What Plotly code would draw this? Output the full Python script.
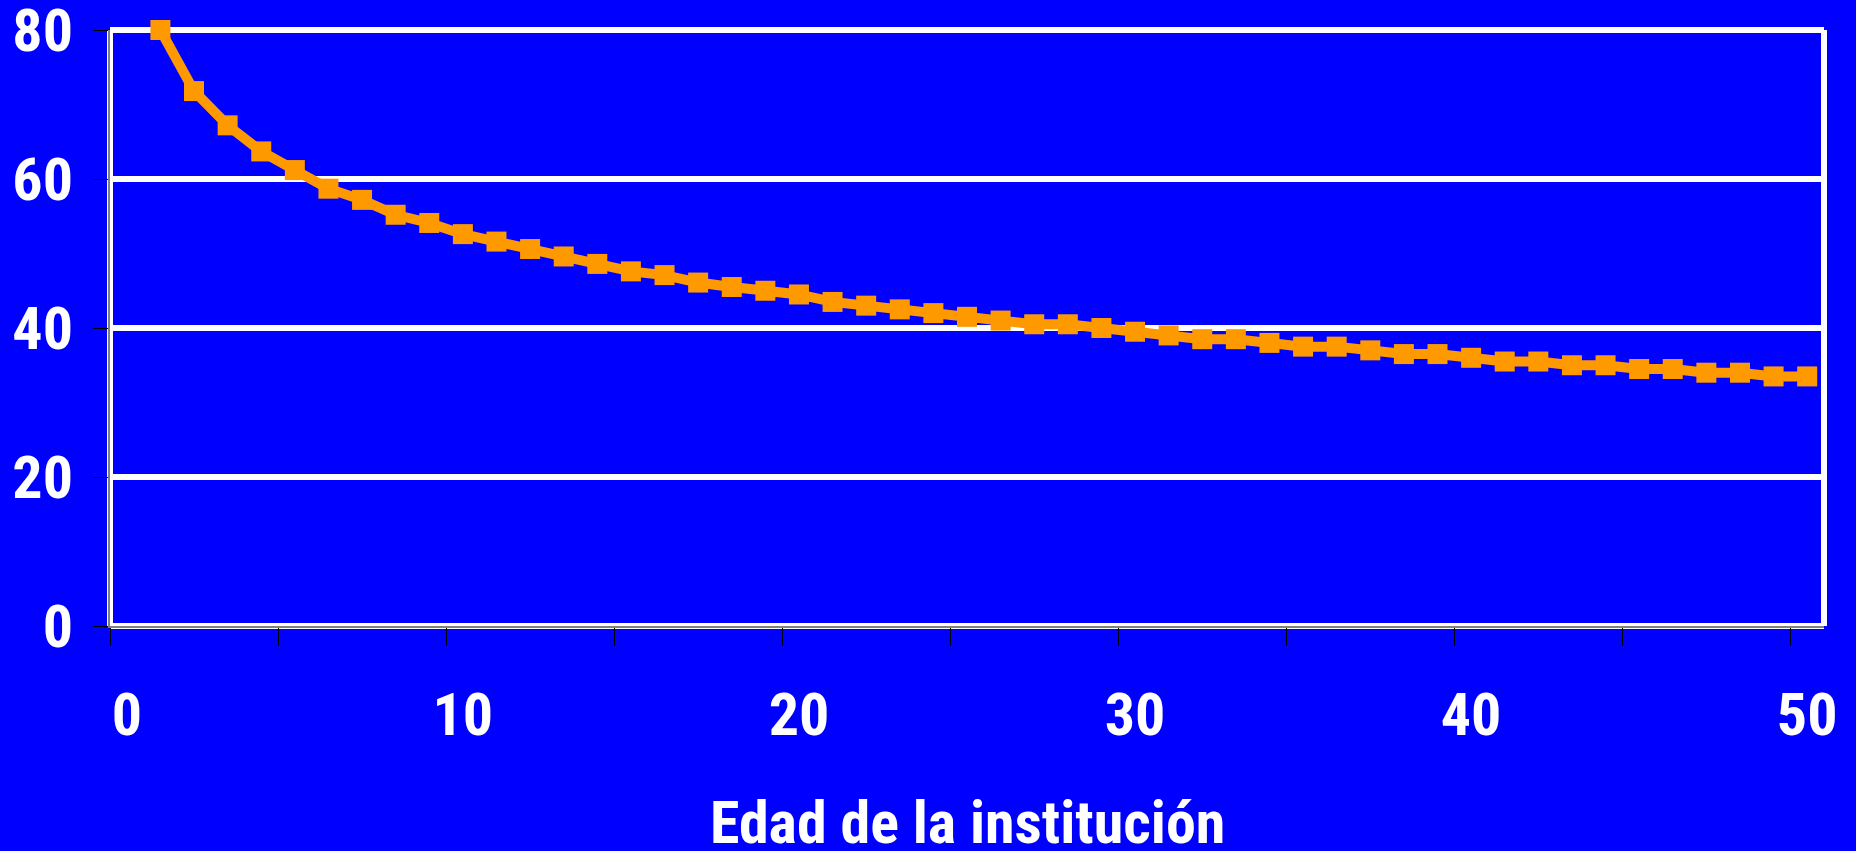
import plotly.graph_objects as go

# Data
edad = list(range(1, 51))
valores = [80.0, 71.8, 67.2, 63.7, 61.2, 58.7, 57.2, 55.2, 54.1, 52.6,
           51.6, 50.6, 49.6, 48.6, 47.6, 47.1, 46.1, 45.5, 45.0, 44.5,
           43.5, 43.0, 42.5, 42.0, 41.5, 41.0, 40.5, 40.5, 40.0, 39.5,
           39.0, 38.5, 38.5, 38.0, 37.5, 37.5, 37.0, 36.5, 36.5, 36.0,
           35.5, 35.5, 35.0, 35.0, 34.5, 34.5, 34.0, 34.0, 33.5, 33.5]
x_ticks = [0, 10, 20, 30, 40, 50]
x_ticktext = ["0", "10", "20", "30", "40", "50"]
y_ticks = [0, 20, 40, 60, 80]
x_title = "Edad de la institución"

BLUE = "#0000FF"
ORANGE = "#FF9900"
FONT = "Roboto Condensed, Liberation Sans, sans-serif"

fig = go.Figure()
fig.add_trace(go.Scatter(
    x=edad, y=valores, mode="lines+markers",
    line=dict(color=ORANGE, width=10),
    marker=dict(symbol="square", size=20, color=ORANGE, line=dict(width=0)),
    cliponaxis=False, showlegend=False,
))

# white frame: left, right, top, bottom
for (x0, x1, y0, y1) in [(0, 0, 0, 1), (1, 1, 0, 1), (0, 1, 1, 1), (0, 1, 0, 0)]:
    fig.add_shape(type="line", xref="x domain", yref="y domain",
                  x0=x0, x1=x1, y0=y0, y1=y1,
                  line=dict(color="white", width=6), layer="below")

fig.add_annotation(text=x_title, xref="x domain", yref="y domain",
                   x=0.5, y=-0.3305, xanchor="center", yanchor="middle",
                   showarrow=False,
                   font=dict(family=FONT, size=60, color="white", weight="bold"))

fig.update_layout(
    width=1856, height=851,
    paper_bgcolor=BLUE, plot_bgcolor=BLUE,
    margin=dict(l=110, r=32, t=30, b=225),
    font=dict(family=FONT, color="white", size=60, weight="bold"),
    xaxis=dict(
        range=[-0.5, 50.5], tickmode="array", tickvals=x_ticks, ticktext=x_ticktext,
        ticks="", showgrid=False, zeroline=False, automargin=False,
        showline=True, linecolor="#808080", linewidth=2,
        tickfont=dict(family=FONT, size=60, color="white", weight="bold"),
        ticklabelstandoff=35, ticklabeloverflow="allow",
        minor=dict(tickvals=[-0.5 + 5 * k for k in range(11)], ticks="outside",
                   ticklen=18, tickwidth=1, tickcolor="black", showgrid=False),
    ),
    yaxis=dict(
        range=[0, 80], tickmode="array", tickvals=y_ticks,
        showgrid=True, gridcolor="white", gridwidth=6, zeroline=False,
        automargin=False,
        showline=True, linecolor="#808080", linewidth=2,
        ticks="outside", ticklen=15, tickwidth=1, tickcolor="black",
        tickfont=dict(family=FONT, size=60, color="white", weight="bold"),
        ticklabelstandoff=8, ticklabeloverflow="allow",
    ),
)

fig.write_html("out.html", config={"displayModeBar": False},
               post_script="document.body.style.margin='0';document.body.style.background='#0000FF';")
